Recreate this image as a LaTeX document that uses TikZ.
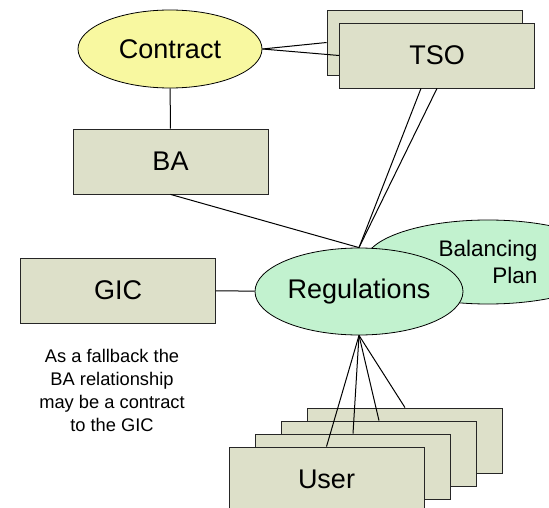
\documentclass[tikz,border=0pt]{standalone}
\usepackage{fontspec}
\setmainfont{Liberation Sans}
\usepackage{xcolor}
\usepackage{tikz}
\usetikzlibrary{shapes.geometric,positioning}

\definecolor{partyfill}{HTML}{DDE0C9}
\definecolor{contractfill}{HTML}{F8F8A0}
\definecolor{rulefill}{HTML}{C2F2CF}

\begin{document}
\begin{tikzpicture}[x=1pt,y=-1pt,
  party/.style={rectangle,draw=black!85,line width=0.8pt,fill=partyfill,minimum width=195pt,minimum height=65pt,inner sep=0pt,font=\fontsize{27}{32}\selectfont},
  relation/.style={ellipse,draw=black,line width=0.8pt,inner sep=0pt,font=\fontsize{27}{32}\selectfont},
  link/.style={line width=1pt}]
\useasboundingbox (0,0) rectangle (549,508);

\node[relation,fill=contractfill,minimum width=184pt,minimum height=78pt] (Contract) at (170,49) {Contract};
\node[party] (TSOBack) at (424.5,42.5) {};
\node[party] (TSO) at (437,55.5) {TSO};
\node[party] (BA) at (170.5,161.5) {BA};
\node[relation,fill=rulefill,minimum width=246pt,minimum height=84pt,align=right,font=\fontsize{22.5}{27}\selectfont] (Plan) at (488,262) {Balancing\\Plan};
\node[relation,fill=rulefill,minimum width=208pt,minimum height=87pt] (Regulations) at (359,291.5) {Regulations};
\node[party] (GIC) at (118,290.5) {GIC};
\node[align=center,font=\fontsize{18.3}{23}\selectfont] (Note) at (112,390.5) {As a fallback the\\BA relationship\\may be a contract\\to the GIC};
\node[party] (User4) at (405,440.5) {};
\node[party] (User3) at (379,453.5) {};
\node[party] (User2) at (353,466.5) {};
\node[party] (User) at (326.5,479.5) {User};

\draw[link] (Contract.east) -- (TSOBack.west);
\draw[link] (Contract.east) -- (TSO.west);
\draw[link] (Contract) -- (BA);
\draw[link] (BA.south) -- (Regulations.north);
\draw[link] ([xshift=-16pt]TSO.south) -- (Regulations.north);
\draw[link] (TSO.south) -- (Regulations.north);
\draw[link] (GIC) -- (Regulations);
\draw[link] (Regulations.south) -- (User.north);
\draw[link] (Regulations.south) -- (User2.north);
\draw[link] (Regulations.south) -- (User3.north);
\draw[link] (Regulations.south) -- (User4.north);
\end{tikzpicture}
\end{document}
